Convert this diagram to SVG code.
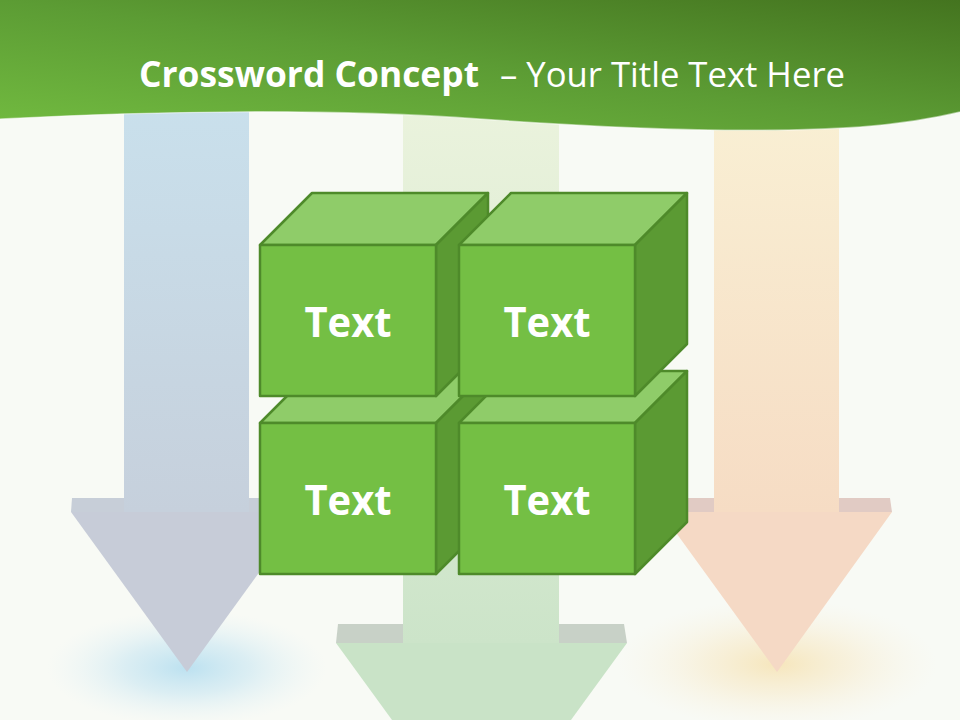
<svg xmlns="http://www.w3.org/2000/svg" xmlns:xlink="http://www.w3.org/1999/xlink" width="960" height="720" viewBox="0 0 960 720">
  <defs>
    <linearGradient id="hdr" x1="0" y1="1" x2="1" y2="0">
      <stop offset="0" stop-color="#72bb40"/>
      <stop offset="0.5" stop-color="#5c9c34"/>
      <stop offset="1" stop-color="#44741f"/>
    </linearGradient>
    <linearGradient id="shaftBlue" x1="0" y1="0" x2="0" y2="1">
      <stop offset="0" stop-color="#c9e0ec"/>
      <stop offset="1" stop-color="#c6d0dc"/>
    </linearGradient>
    <linearGradient id="shaftGreen" x1="0" y1="0" x2="0" y2="1">
      <stop offset="0" stop-color="#ebf3dd"/>
      <stop offset="1" stop-color="#cce4c9"/>
    </linearGradient>
    <linearGradient id="shaftOrange" x1="0" y1="0" x2="0" y2="1">
      <stop offset="0" stop-color="#f9f0d4"/>
      <stop offset="1" stop-color="#f6dcc4"/>
    </linearGradient>
    <radialGradient id="glowBlue">
      <stop offset="0" stop-color="#bce1f0" stop-opacity="1"/>
      <stop offset="0.45" stop-color="#c8e6f2" stop-opacity="0.6"/>
      <stop offset="1" stop-color="#e4f2f6" stop-opacity="0"/>
    </radialGradient>
    <radialGradient id="glowOrange">
      <stop offset="0" stop-color="#f6e6bc" stop-opacity="1"/>
      <stop offset="0.45" stop-color="#f7ebcc" stop-opacity="0.6"/>
      <stop offset="1" stop-color="#f8f3e2" stop-opacity="0"/>
    </radialGradient>
    <g id="cube">
      <polygon class="top" points="0,0 52,-52 228,-52 176,0"/>
      <polygon class="side" points="176,0 228,-52 228,99 176,151"/>
      <rect class="front" x="0" y="0" width="176" height="151"/>
    </g>
  </defs>
  <style>
    .top { fill: #8fcc69; stroke: #4e8a2a; stroke-width: 2.5; stroke-linejoin: round; }
    .side { fill: #5b9a33; stroke: #4e8a2a; stroke-width: 2.5; stroke-linejoin: round; }
    .front { fill: #74bf44; stroke: #4e8a2a; stroke-width: 2.5; stroke-linejoin: round; }
    .label { font-family: "Open Sans", "Liberation Sans", sans-serif; font-weight: bold; font-size: 42px; fill: #ffffff; text-anchor: middle; }
    .title { font-family: "Open Sans", "Liberation Sans", sans-serif; font-size: 35px; fill: #ffffff; }
  </style>

  <rect x="0" y="0" width="960" height="720" fill="#f8faf5"/>

  <!-- glows -->
  <ellipse cx="187" cy="668" rx="140" ry="58" fill="url(#glowBlue)"/>
  <ellipse cx="777" cy="664" rx="160" ry="65" fill="url(#glowOrange)"/>

  <g id="arrows">
    <g id="arrow-left">
      <rect x="124" y="100" width="125" height="412" fill="url(#shaftBlue)"/>
      <polygon points="72,498 124,498 124,512 71,512" fill="#c7ced8"/>
      <polygon points="249,498 302,498 303,512 249,512" fill="#c7ced8"/>
      <polygon points="71,512 303,512 187,672" fill="#c7ccd8"/>
    </g>
    <g id="arrow-middle">
      <rect x="403" y="100" width="156" height="543" fill="url(#shaftGreen)"/>
      <polygon points="338,624 403,624 403,643 336,643" fill="#c8d1c7"/>
      <polygon points="559,624 624,624 627,643 559,643" fill="#c8d1c7"/>
      <polygon points="336,643 627,643 481.5,843" fill="#c9e3c7"/>
    </g>
    <g id="arrow-right">
      <rect x="714" y="100" width="125" height="412" fill="url(#shaftOrange)"/>
      <polygon points="662,498 714,498 714,512 661,512" fill="#e1cbc4"/>
      <polygon points="839,498 890,498 892,512 839,512" fill="#e1cbc4"/>
      <polygon points="661,512 892,512 777,672" fill="#f5d9c5"/>
    </g>
  </g>

  <!-- header -->
  <g id="header">
    <path d="M0,0 H960 V112 C935,118 900,124 860,127 C760,134 620,129 480,119 C330,108 150,111 0,119 Z" fill="url(#hdr)"/>
    <path d="M0,119 C150,111 330,108 480,119 C620,129 760,134 860,127 C900,124 935,118 960,112" fill="none" stroke="#ffffff" stroke-opacity="0.5" stroke-width="1.5"/>
    <text class="title" x="139" y="87" font-weight="bold" textLength="340" lengthAdjust="spacingAndGlyphs">Crossword Concept</text>
    <text class="title" x="500" y="87" textLength="345" lengthAdjust="spacingAndGlyphs">– Your Title Text Here</text>
  </g>

  <g id="connectors"/>

  <g id="node-3">
    <use xlink:href="#cube" href="#cube" transform="translate(260,423)"/>
    <text class="label" x="348" y="515" textLength="87" lengthAdjust="spacingAndGlyphs">Text</text>
  </g>
  <g id="node-4">
    <use xlink:href="#cube" href="#cube" transform="translate(459,423)"/>
    <text class="label" x="547" y="515" textLength="87" lengthAdjust="spacingAndGlyphs">Text</text>
  </g>
  <g id="node-1">
    <use xlink:href="#cube" href="#cube" transform="translate(260,245)"/>
    <text class="label" x="348" y="337" textLength="87" lengthAdjust="spacingAndGlyphs">Text</text>
  </g>
  <g id="node-2">
    <use xlink:href="#cube" href="#cube" transform="translate(459,245)"/>
    <text class="label" x="547" y="337" textLength="87" lengthAdjust="spacingAndGlyphs">Text</text>
  </g>
</svg>
